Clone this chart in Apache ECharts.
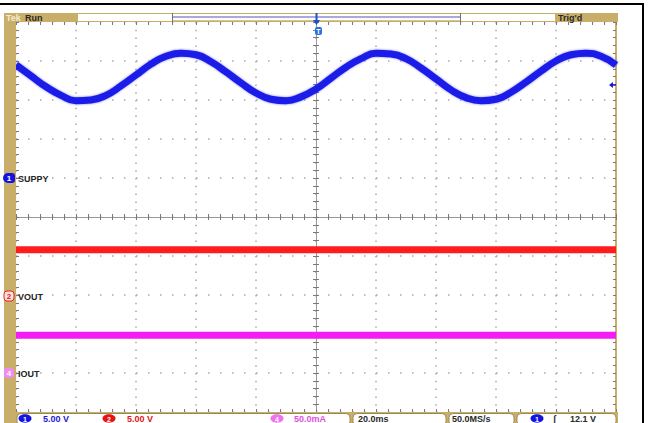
<!DOCTYPE html>
<html>
<head>
<meta charset="utf-8">
<script src="https://cdn.jsdelivr.net/npm/echarts@6/dist/echarts.min.js"></script>
<style>
html,body{margin:0;padding:0;background:#fff;}
#c{width:649px;height:423px;}
</style>
</head>
<body>
<div id="c"></div>
<script>
// ---- data ----
// time axis: 20.0 ms/div, 10 divisions, trigger at centre
const timeMs = [-100,-95,-90,-85,-80,-75,-70,-65,-60,-55,-50,-45,-40,-35,-30,-25,-20,-15,-10,-5,0,5,10,15,20,25,30,35,40,45,50,55,60,65,70,75,80,85,90,95,100];
// CH1 "SUPPY" (5.00 V/div)
const supplyV = [14.5,13.1,11.7,10.6,9.9,10.0,10.6,11.8,13.2,14.6,15.6,16.0,15.8,14.9,13.6,12.2,10.9,10.1,9.9,10.4,11.4,12.8,14.2,15.3,16.0,15.9,15.3,14.1,12.7,11.3,10.3,9.9,10.1,11.0,12.3,13.7,15.0,15.8,16.0,15.6,14.5];
// CH2 "VOUT" (5.00 V/div) and CH4 "IOUT" (50.0 mA/div), flat traces
const flatTimeMs = [-100,-60,-20,20,60,100];
const voutV = [5.8,5.8,5.8,5.8,5.8,5.8];
const ioutMA = [48.5,48.5,48.5,48.5,48.5,48.5];
// channel labels and readouts
const chLabels = ['SUPPY','VOUT','IOUT'];
const readouts = ['5.00 V','5.00 V','50.0mA','20.0ms','50.0MS/s','12.1 V'];

const TAN = '#c8ae68';
const GRIDC = '#a8a8a8';
const TICKC = '#7a7a7a';
const FONT = '"Liberation Sans", Arial, sans-serif';

const chart = echarts.init(document.getElementById('c'), null, {renderer:'svg'});

function xAx(pos, onZero, extra){
  return Object.assign({
    type:'value', min:-100, max:100, interval:20, position:pos,
    axisLine:{show:false, onZero:onZero, onZeroAxisIndex:0, lineStyle:{color:TICKC,width:1}},
    axisTick:{show:true, inside:true, length:3, lineStyle:{color:TICKC}},
    minorTick:{show:true, splitNumber:5, length:3, lineStyle:{color:TICKC}},
    axisLabel:{show:false}, splitLine:{show:false}
  }, extra||{});
}
function yAx(pos, onZero, extra){
  return Object.assign({
    type:'value', min:-5, max:5, interval:1, position:pos,
    axisLine:{show:false, onZero:onZero, onZeroAxisIndex:0, lineStyle:{color:TICKC,width:1}},
    axisTick:{show:true, inside:true, length:3, lineStyle:{color:TICKC}},
    minorTick:{show:true, splitNumber:5, length:3, lineStyle:{color:TICKC}},
    axisLabel:{show:false}, splitLine:{show:false}
  }, extra||{});
}

const xAxes = [
  xAx('bottom', false, {axisLine:{show:true, onZero:false, lineStyle:{color:TICKC,width:1}},
    splitLine:{show:true, lineStyle:{color:GRIDC, width:1.5, type:[1.5,6.3]}}}),
  xAx('top', false),
  xAx('bottom', true, {axisLine:{show:true, onZero:true, onZeroAxisIndex:0, lineStyle:{color:'#9a9a9a',width:1}}}),
  xAx('top', true, {axisLine:{show:false, onZero:true, onZeroAxisIndex:0}})
];
const yAxes = [
  yAx('left', false, {splitLine:{show:true, lineStyle:{color:GRIDC, width:1.5, type:[1.5,10.5]}}}),
  yAx('right', false, {axisLine:{show:true, onZero:false, lineStyle:{color:TAN,width:2}}}),
  yAx('left', true, {axisLine:{show:true, onZero:true, onZeroAxisIndex:0, lineStyle:{color:'#9a9a9a',width:1}}}),
  yAx('right', true, {axisLine:{show:false, onZero:true, onZeroAxisIndex:0}}),
  // hidden channel scales (ground markers at +1, -2, -4 div)
  {type:'value', show:false, min:-30, max:20, interval:5},
  {type:'value', show:false, min:-15, max:35, interval:5},
  {type:'value', show:false, min:-50, max:450, interval:50}
];

function txt(x, y, s, color, size, align){
  return {type:'text', x:x, y:y, z:200,
    style:{text:s, fill:color, font:'bold '+(size||9)+'px '+FONT, verticalAlign:'middle', textAlign:align||'left'}};
}
function rect(x,y,w,h,fill,r,stroke){
  return {type:'rect', z:150, shape:{x:x,y:y,width:w,height:h,r:r||0}, style:{fill:fill, stroke:stroke||null, lineWidth:stroke?1:0}};
}
function badge(cx, cy, s, fill, color){
  return [
    {type:'ellipse', z:190, shape:{cx:cx, cy:cy, rx:6.5, ry:4.2}, style:{fill:fill}},
    txt(cx, cy+0.5, s, color, 7, 'center')
  ];
}

const RY = 418.5; // readout row centre

const graphics = [
  // outer black frame lines
  {type:'line', z:300, shape:{x1:0,y1:4,x2:644,y2:4}, style:{stroke:'#000', lineWidth:2}},
  {type:'line', z:300, shape:{x1:643,y1:4,x2:643,y2:423}, style:{stroke:'#000', lineWidth:2}},
  // tan frame
  rect(4,13,614,9,TAN),
  rect(4,13,12,410,TAN),
  rect(4,412,614,11,TAN),
  // top status bar
  rect(78,14,477,7,'#ffffff'),
  {type:'line', z:160, shape:{x1:172,y1:17,x2:461,y2:17}, style:{stroke:'#5050c8', lineWidth:1}},
  {type:'line', z:160, shape:{x1:172,y1:20.5,x2:461,y2:20.5}, style:{stroke:'#d8c690', lineWidth:1}},
  {type:'line', z:160, shape:{x1:172.5,y1:13,x2:172.5,y2:22}, style:{stroke:'#707070', lineWidth:1}},
  {type:'line', z:160, shape:{x1:460.5,y1:13,x2:460.5,y2:22}, style:{stroke:'#707070', lineWidth:1}},
  txt(6,18,'Tek','#f4ecd4',9),
  txt(25,18,'Run','#2a2a2a',9),
  txt(558,18,"Trig'd",'#2a2a2a',9),
  // trigger position marker
  {type:'line', z:170, shape:{x1:316.5,y1:13,x2:316.5,y2:21}, style:{stroke:'#2050d0', lineWidth:2}},
  {type:'polygon', z:170, shape:{points:[[313,20],[320,20],[316.5,25]]}, style:{fill:'#2050d0'}},
  {type:'rect', z:170, shape:{x:315,y:27,width:7,height:8,r:2}, style:{fill:'#2a70e0'}},
  txt(318.5,31.5,'T','#ffffff',7,'center'),
  // trigger level arrow on the right
  {type:'polygon', z:170, shape:{points:[[609,85],[613,82],[613,88]]}, style:{fill:'#1a1ad0'}},
  {type:'line', z:170, shape:{x1:612,y1:85,x2:616,y2:85}, style:{stroke:'#1a1ad0', lineWidth:1.5}},
  // channel ground markers and labels
  {type:'rect', z:190, shape:{x:3,y:173,width:12,height:10,r:[5,3,3,5]}, style:{fill:'#1414e0'}},
  txt(9,178.5,'1','#fff',8,'center'),
  {type:'rect', z:190, shape:{x:4,y:291,width:10,height:10,r:3}, style:{fill:'#ffe0e0', stroke:'#e02020', lineWidth:1}},
  txt(9,296.5,'2','#e02020',8,'center'),
  {type:'rect', z:190, shape:{x:4,y:368,width:10,height:10,r:3}, style:{fill:'#f08cf0'}},
  txt(9,373.5,'4','#fff',8,'center'),
  txt(18,179,chLabels[0],'#262626',9),
  txt(18,297,chLabels[1],'#262626',9),
  txt(18,374,chLabels[2],'#262626',9),
  // readout boxes
  rect(17,413.5,333,12,'#ffffff',4,'#9a8a5a'),
  rect(353,413.5,93,12,'#ffffff',4,'#9a8a5a'),
  rect(449,413.5,65,12,'#ffffff',4,'#9a8a5a'),
  rect(517,413.5,99,12,'#ffffff',4,'#9a8a5a'),
].concat(
  badge(25,RY,'1','#1414e0','#fff'),
  badge(109,RY,'2','#e81010','#fff'),
  badge(277,RY,'4','#f070f0','#fff'),
  badge(537,RY,'1','#1414e0','#fff'),
  [
    txt(43,RY,readouts[0],'#1a1ad8',9),
    txt(127,RY,readouts[1],'#e01818',9),
    txt(294,RY,readouts[2],'#e050e0',9),
    txt(358,RY,readouts[3],'#2a2a2a',9),
    txt(452,RY,readouts[4],'#2a2a2a',9),
    txt(553,RY,'ʃ','#2a2a2a',9),
    txt(570,RY,readouts[5],'#2a2a2a',9)
  ]
);

const option = {
  animation:false,
  backgroundColor:'#ffffff',
  grid:{left:16, right:33, top:22, bottom:11, containLabel:false},
  xAxis:xAxes,
  yAxis:yAxes,
  series:[
    {type:'line', xAxisIndex:0, yAxisIndex:4, data:timeMs.map((t,i)=>[t,supplyV[i]]),
     smooth:true, symbol:'none', z:10,
     lineStyle:{color:'#1c1ce8', width:7, shadowBlur:2, shadowColor:'rgba(40,40,255,0.6)'}},
    {type:'line', xAxisIndex:0, yAxisIndex:5, data:flatTimeMs.map((t,i)=>[t,voutV[i]]),
     symbol:'none', z:10,
     lineStyle:{color:'#ff1c1c', width:7}},
    {type:'line', xAxisIndex:0, yAxisIndex:6, data:flatTimeMs.map((t,i)=>[t,ioutMA[i]]),
     symbol:'none', z:10,
     lineStyle:{color:'#f41cf4', width:7}}
  ],
  graphic:graphics
};
chart.setOption(option);
</script>
</body>
</html>
